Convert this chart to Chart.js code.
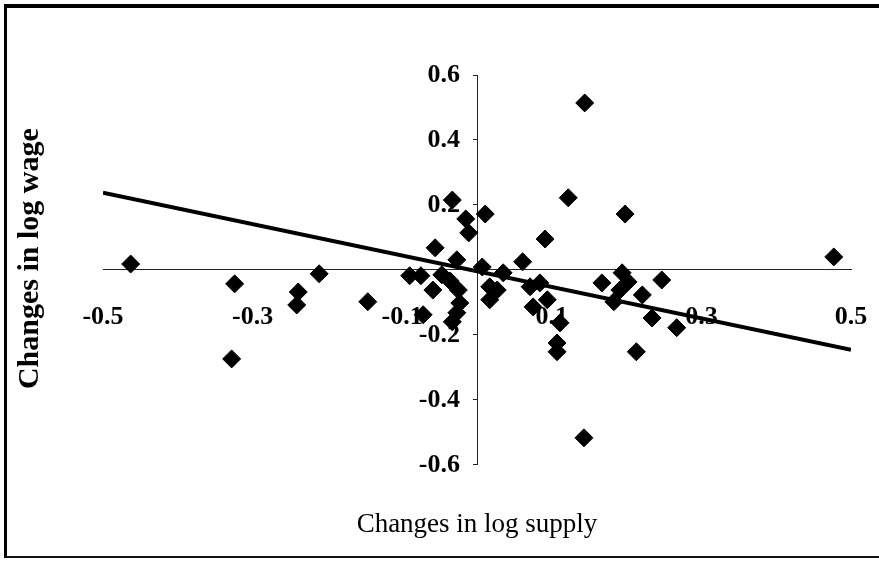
<!DOCTYPE html>
<html>
<head>
<meta charset="utf-8">
<script src="https://cdn.jsdelivr.net/npm/chart.js@4.4.1/dist/chart.umd.min.js"></script>
<style>
  html, body { margin: 0; padding: 0; background: #fff; overflow: hidden; }
  #wrap { position: relative; width: 879px; height: 561px; }
  #frame {
    position: absolute; left: 4px; top: 4px; width: 900px; height: 548px;
    border-top: 4px solid #000; border-left: 3px solid #000; border-bottom: 2px solid #111;
    pointer-events: none;
  }
</style>
</head>
<body>
<div id="wrap">
  <canvas id="chart" width="879" height="561"></canvas>
  <div id="frame"></div>
</div>
<script>
// ─── data ───────────────────────────────────────────────────────
const SUPPLY = [
  -0.463, -0.324, -0.328, -0.239, -0.241, -0.211, -0.146, -0.090, -0.075, -0.072,
  -0.056, -0.059, -0.047, -0.036, -0.033, -0.027, -0.025, -0.023, -0.027, -0.033,
  -0.015, -0.011, 0.011, 0.007, 0.035, 0.017, 0.017, 0.027, 0.061, 0.071,
  0.084, 0.075, 0.094, 0.091, 0.122, 0.111, 0.107, 0.107, 0.144, 0.143,
  0.167, 0.194, 0.202, 0.198, 0.183, 0.191, 0.221, 0.247, 0.234, 0.267,
  0.213, 0.477
];
const WAGE = [
  0.018, -0.043, -0.274, -0.068, -0.108, -0.012, -0.098, -0.018, -0.018, -0.138,
  0.068, -0.062, -0.015, -0.034, 0.215, 0.031, -0.062, -0.102, -0.132, -0.160,
  0.157, 0.114, 0.172, 0.009, -0.009, -0.052, -0.092, -0.062, 0.025, -0.052,
  -0.040, -0.114, -0.092, 0.095, 0.222, -0.163, -0.225, -0.252, 0.514, -0.517,
  -0.040, -0.009, -0.037, 0.172, -0.098, -0.062, -0.077, -0.031, -0.148, -0.178,
  -0.252, 0.040
];
const FIT_X = [-0.5, 0.5];
const FIT_Y = [0.238, -0.246];

const X_TICKS = [-0.5, -0.3, -0.1, 0.1, 0.3, 0.5];
const Y_TICKS = [-0.6, -0.4, -0.2, 0.2, 0.4, 0.6];

const SERIF = '"Liberation Serif", "Times New Roman", serif';
const TICK_FONT = { family: SERIF, size: 26, weight: 'bold' };

const fmt = v => v.toFixed(1);

new Chart(document.getElementById('chart').getContext('2d'), {
  type: 'scatter',
  data: {
    datasets: [
      {
        label: 'wage',
        data: SUPPLY.map((x, i) => ({ x, y: WAGE[i] })),
        pointStyle: 'rectRot',
        pointRadius: 9,
        backgroundColor: '#000',
        borderColor: '#000',
        borderWidth: 1,
        order: 2
      },
      {
        type: 'line',
        label: 'fit',
        data: FIT_X.map((x, i) => ({ x, y: FIT_Y[i] })),
        borderColor: '#000',
        borderWidth: 4,
        pointRadius: 0,
        fill: false,
        tension: 0,
        order: 1
      }
    ]
  },
  options: {
    responsive: false,
    animation: false,
    devicePixelRatio: 1,
    layout: { padding: { left: 5, right: 28, top: 75, bottom: 10 } },
    plugins: {
      legend: { display: false },
      tooltip: { enabled: false },
      title: {
        display: true, position: 'left', fullSize: false,
        // leading spaces nudge the rotated title up a little
        text: '   Changes in log wage', color: '#000',
        font: { family: SERIF, size: 30, weight: 'bold' },
        padding: { top: 7, bottom: 55 }
      },
      subtitle: {
        display: true, position: 'bottom', fullSize: false,
        text: 'Changes in log supply', color: '#000',
        font: { family: SERIF, size: 27 },
        padding: { top: 43.8, bottom: 10 }
      }
    },
    scales: {
      x: {
        type: 'linear', min: -0.5, max: 0.5,
        position: { y: 0 },
        afterBuildTicks: s => { s.ticks = X_TICKS.map(v => ({ value: v })); },
        ticks: { color: '#000', font: TICK_FONT, padding: 0, maxRotation: 0, autoSkip: false, callback: fmt },
        grid: { display: true, drawOnChartArea: false, drawTicks: true, tickLength: 32, color: 'rgba(0,0,0,0)' },
        border: { display: true, color: '#222', width: 1 }
      },
      y: {
        type: 'linear', min: -0.6, max: 0.6,
        position: 'center',
        afterBuildTicks: s => { s.ticks = Y_TICKS.map(v => ({ value: v })); },
        ticks: { color: '#000', font: TICK_FONT, padding: 13, autoSkip: false, callback: fmt },
        grid: { display: true, drawOnChartArea: false, drawTicks: true, tickLength: 4, color: '#222' },
        border: { display: true, color: '#222', width: 1 }
      }
    }
  }
});
</script>
</body>
</html>
